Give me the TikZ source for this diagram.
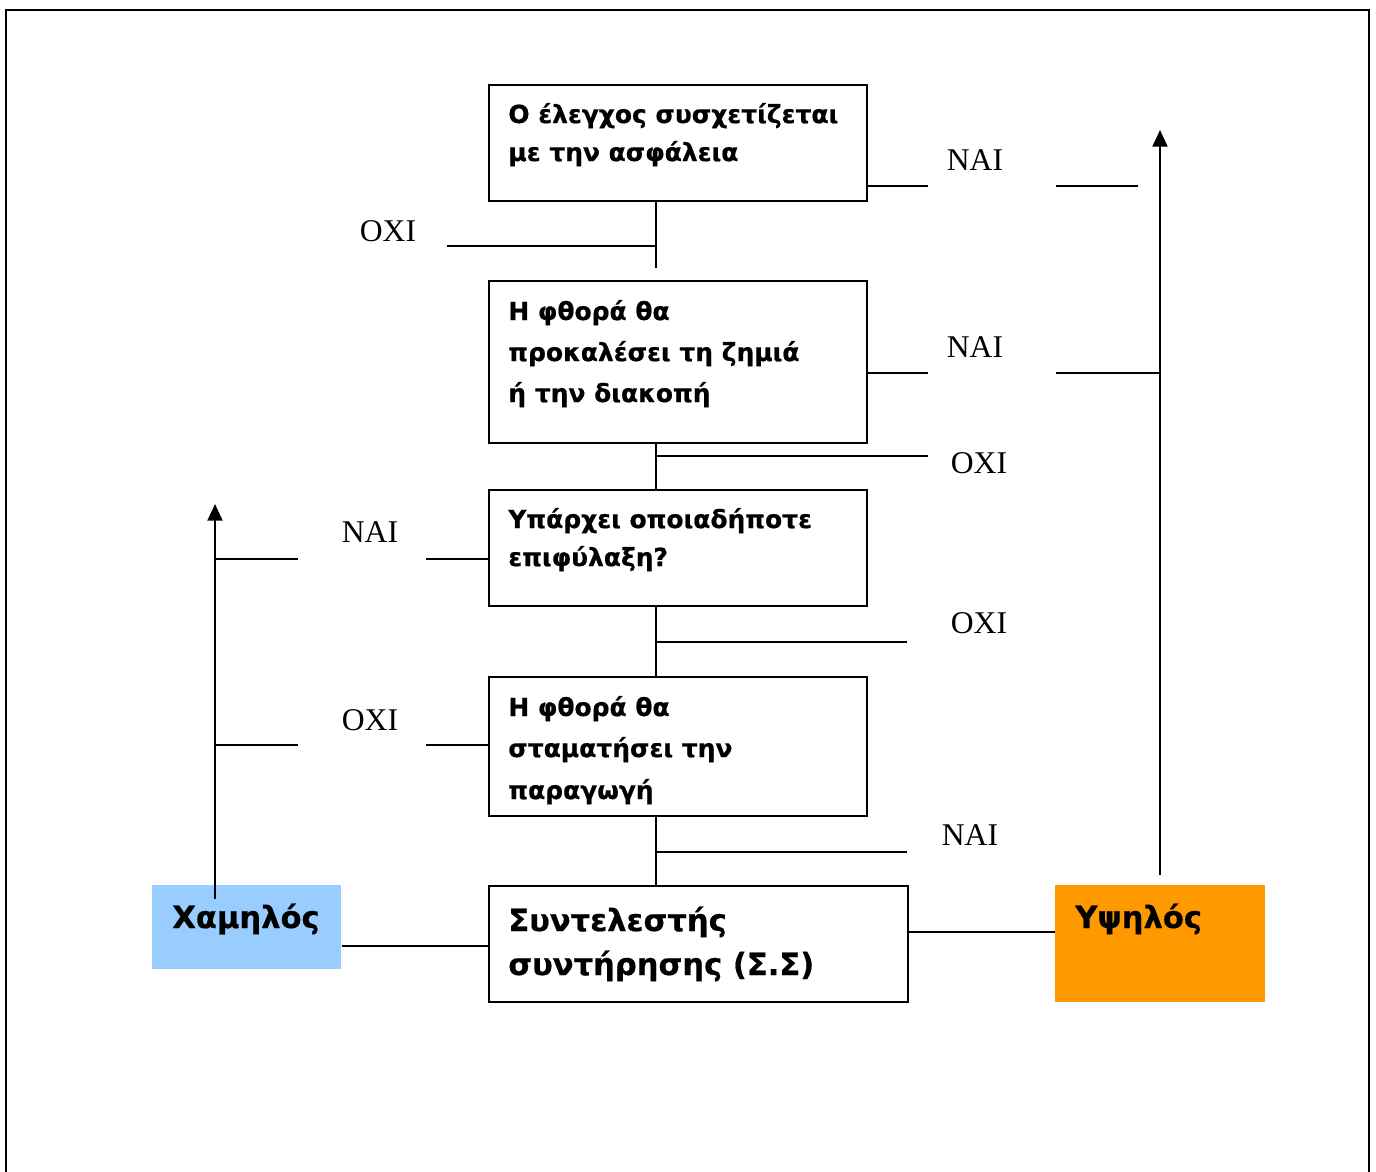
\documentclass[tikz,border=0pt]{standalone}
\usepackage{fontspec}
\setmainfont{Liberation Serif}
\newfontfamily\boxfont[BoldFeatures={FakeBold=0.6}]{DejaVu Sans}
\usetikzlibrary{arrows.meta}
\definecolor{lowblue}{HTML}{99CCFF}
\definecolor{highorange}{HTML}{FF9900}
\begin{document}
\begin{tikzpicture}[x=0.02cm,y=-0.02cm,
  box/.style={draw, line width=1.1pt, inner sep=0pt, anchor=north west},
  fillbox/.style={inner sep=0pt, anchor=north west},
  btxt/.style={inner sep=0pt, anchor=base west, font=\boxfont\bfseries\fontsize{14.2}{17}\selectfont},
  bigtxt/.style={inner sep=0pt, anchor=base west, font=\boxfont\bfseries\fontsize{17.4}{20}\selectfont},
  lab/.style={inner sep=0pt, anchor=base, font=\fontsize{18}{20}\selectfont},
  conn/.style={line width=1.05pt},
  uparrow/.style={line width=1.3pt, -{Triangle[length=9.5pt,width=8.5pt]}},
  frame/.style={line width=1.4pt}
]
\useasboundingbox (0,0) rectangle (1376,1171);
% outer frame
\draw[frame] (6,1175) -- (6,10) -- (1369,10) -- (1369,1175);

% boxes
\node[box, minimum width=7.56cm, minimum height=2.32cm] (b1) at (488,84) {};
\node[box, minimum width=7.56cm, minimum height=3.24cm] (b2) at (488,280) {};
\node[box, minimum width=7.56cm, minimum height=2.32cm] (b3) at (488,489) {};
\node[box, minimum width=7.56cm, minimum height=2.78cm] (b4) at (488,676) {};
\node[box, minimum width=8.38cm, minimum height=2.32cm] (b5) at (488,885) {};
\node[fillbox, fill=lowblue, minimum width=3.78cm, minimum height=1.68cm] (low) at (152,885) {};
\node[fillbox, fill=highorange, minimum width=4.2cm, minimum height=2.34cm] (high) at (1055,885) {};

% box texts
\node[btxt] (t1a) at (508,123) {Ο έλεγχος συσχετίζεται};
\node[btxt] (t1b) at (508,161) {με την ασφάλεια};
\node[btxt] (t2a) at (508,320) {Η φθορά θα};
\node[btxt] (t2b) at (508,361) {προκαλέσει τη ζημιά};
\node[btxt] (t2c) at (508,402) {ή την διακοπή};
\node[btxt] (t3a) at (508,528) {Υπάρχει οποιαδήποτε};
\node[btxt] (t3b) at (508,566) {επιφύλαξη?};
\node[btxt] (t4a) at (508,716) {Η φθορά θα};
\node[btxt] (t4b) at (508,757) {σταματήσει την};
\node[btxt] (t4c) at (508,799) {παραγωγή};
\node[bigtxt] (t5a) at (508,931) {Συντελεστής};
\node[bigtxt] (t5b) at (508,975) {συντήρησης (Σ.Σ)};
\node[bigtxt] (tlow) at (172,928) {Χαμηλός};
\node[bigtxt] (thigh) at (1075,928) {Υψηλός};

% labels
\node[lab] (l1) at (975,170) {NAI};
\node[lab] (l2) at (388,241) {OXI};
\node[lab] (l3) at (975,357) {NAI};
\node[lab] (l4) at (979,473) {OXI};
\node[lab] (l5) at (370,542) {NAI};
\node[lab] (l6) at (979,633) {OXI};
\node[lab] (l7) at (370,730) {OXI};
\node[lab] (l8) at (970,845) {NAI};

% coordinates
\coordinate (c1) at (656,268);
\coordinate (c1h) at (447,246);
\coordinate (ra) at (1160,875);
\coordinate (rtop) at (1160,130);
\coordinate (la) at (215,899);
\coordinate (ltop) at (215,504);

% central spine
\draw[conn] (b1.south -| 656,0) -- (c1);
\draw[conn] (c1h) -- (656,246);
\draw[conn] (656,442) -- (656,489);
\draw[conn] (656,456) -- (928,456);
\draw[conn] (656,605) -- (656,676);
\draw[conn] (656,642) -- (907,642);
\draw[conn] (656,815) -- (656,885);
\draw[conn] (656,852) -- (907,852);

% right branches
\draw[conn] (866,186) -- (928,186);
\draw[conn] (1056,186) -- (1138,186);
\draw[conn] (866,373) -- (928,373);
\draw[conn] (1056,373) -- (1160,373);
\draw[uparrow] (ra) -- (rtop);

% left branches
\draw[conn] (215,559) -- (298,559);
\draw[conn] (426,559) -- (b3.west |- 0,559);
\draw[conn] (215,745) -- (298,745);
\draw[conn] (426,745) -- (b4.west |- 0,745);
\draw[uparrow] (la) -- (ltop);

% bottom links
\draw[conn] (low.east |- 0,946) -- (b5.west |- 0,946);
\draw[conn] (b5.east |- 0,932) -- (high.west |- 0,932);
\end{tikzpicture}
\end{document}
